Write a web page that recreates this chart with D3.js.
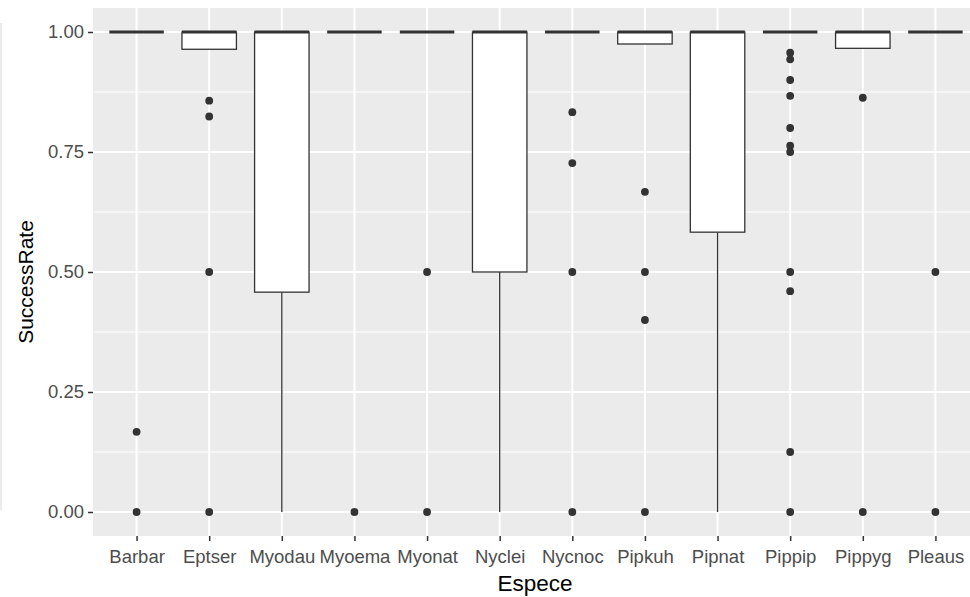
<!DOCTYPE html>
<html>
<head>
<meta charset="utf-8">
<script src="https://cdn.jsdelivr.net/npm/d3@7"></script>
<style>
  html, body { margin: 0; padding: 0; background: #ffffff; }
  svg { display: block; font-family: "Liberation Sans", Arial, sans-serif; }
</style>
</head>
<body>
<svg id="chart" width="970" height="597"></svg>
<script>
// Success rate per species: box summaries and outlying points
const species = ["Barbar", "Eptser", "Myodau", "Myoema", "Myonat", "Nyclei",
                 "Nycnoc", "Pipkuh", "Pipnat", "Pippip", "Pippyg", "Pleaus"];
const lowerHinge = [1, 0.964, 0.458, 1, 1, 0.5, 1, 0.975, 0.583, 1, 0.966, 1];
const medians    = [1, 1, 1, 1, 1, 1, 1, 1, 1, 1, 1, 1];
const upperHinge = [1, 1, 1, 1, 1, 1, 1, 1, 1, 1, 1, 1];
const whiskerLow = [1, 0.964, 0, 1, 1, 0, 1, 0.975, 0, 1, 0.966, 1];
const whiskerHigh = [1, 1, 1, 1, 1, 1, 1, 1, 1, 1, 1, 1];
const outliers = [
  [0.167, 0],
  [0.857, 0.824, 0.5, 0],
  [],
  [0],
  [0.5, 0],
  [],
  [0.833, 0.727, 0.5, 0],
  [0.667, 0.5, 0.4, 0],
  [],
  [0.957, 0.943, 0.9, 0.867, 0.8, 0.763, 0.75, 0.5, 0.46, 0.125, 0],
  [0.863, 0],
  [0.5, 0]
];
const yTicks = [0, 0.25, 0.5, 0.75, 1];
const yMinor = [0.125, 0.375, 0.625, 0.875];

const svg = d3.select("#chart");
const panel = { left: 93, right: 979, top: 8, bottom: 536 };

const x = d3.scalePoint().domain(species).range([panel.left, panel.right]).padding(0.6);
const y = d3.scaleLinear().domain([-0.05, 1.05]).range([panel.bottom, panel.top]);
const boxW = x.step() * 0.75;

// faint strip at the far left edge
svg.append("rect").attr("x", 0).attr("y", 23).attr("width", 2).attr("height", 487)
  .attr("fill", "#ebebeb");

// panel background
svg.append("rect")
  .attr("x", panel.left).attr("y", panel.top)
  .attr("width", panel.right - panel.left).attr("height", panel.bottom - panel.top)
  .attr("fill", "#ebebeb");

const grid = svg.append("g");
grid.selectAll("line.minor").data(yMinor).join("line")
  .attr("x1", panel.left).attr("x2", panel.right)
  .attr("y1", d => y(d)).attr("y2", d => y(d))
  .attr("stroke", "#ffffff").attr("stroke-width", 1);
grid.selectAll("line.majy").data(yTicks).join("line")
  .attr("x1", panel.left).attr("x2", panel.right)
  .attr("y1", d => y(d)).attr("y2", d => y(d))
  .attr("stroke", "#ffffff").attr("stroke-width", 2);
grid.selectAll("line.majx").data(species).join("line")
  .attr("y1", panel.top).attr("y2", panel.bottom)
  .attr("x1", d => x(d)).attr("x2", d => x(d))
  .attr("stroke", "#ffffff").attr("stroke-width", 2);

// boxes
const rows = species.map((s, i) => ({
  s, q1: lowerHinge[i], med: medians[i], q3: upperHinge[i],
  lo: whiskerLow[i], hi: whiskerHigh[i], out: outliers[i]
}));

const boxes = svg.append("g").selectAll("g").data(rows).join("g");
boxes.append("line")
  .attr("x1", d => x(d.s)).attr("x2", d => x(d.s))
  .attr("y1", d => y(d.lo)).attr("y2", d => y(d.q1))
  .attr("stroke", "#333333").attr("stroke-width", 1.3);
boxes.append("line")
  .attr("x1", d => x(d.s)).attr("x2", d => x(d.s))
  .attr("y1", d => y(d.q3)).attr("y2", d => y(d.hi))
  .attr("stroke", "#333333").attr("stroke-width", 1.3);
boxes.append("rect")
  .attr("x", d => x(d.s) - boxW / 2).attr("width", boxW)
  .attr("y", d => y(d.q3)).attr("height", d => y(d.q1) - y(d.q3))
  .attr("fill", "#ffffff").attr("stroke", "#333333").attr("stroke-width", 1.3);
boxes.append("line")
  .attr("x1", d => x(d.s) - boxW / 2).attr("x2", d => x(d.s) + boxW / 2)
  .attr("y1", d => y(d.med)).attr("y2", d => y(d.med))
  .attr("stroke", "#333333").attr("stroke-width", 3);
boxes.selectAll("circle").data(d => d.out.map(v => ({ s: d.s, v }))).join("circle")
  .attr("cx", d => x(d.s)).attr("cy", d => y(d.v)).attr("r", 3.9)
  .attr("fill", "#333333");

// axes
const yAxis = svg.append("g").attr("transform", `translate(${panel.left},0)`)
  .call(d3.axisLeft(y).tickValues(yTicks).tickFormat(d3.format(".2f")).tickSize(5).tickPadding(4));
const xAxis = svg.append("g").attr("transform", `translate(0,${panel.bottom})`)
  .call(d3.axisBottom(x).tickSize(5).tickPadding(4));
[yAxis, xAxis].forEach(a => {
  a.select(".domain").remove();
  a.selectAll(".tick line").attr("stroke", "#333333").attr("stroke-width", 1.5);
  a.selectAll(".tick text").attr("fill", "#4d4d4d")
    .style("font-size", "18.5px").style("font-family", "'Liberation Sans', Arial, sans-serif");
});
xAxis.selectAll(".tick text").attr("dy", "0.95em");

// axis titles
svg.append("text").attr("x", (panel.left + panel.right) / 2 - 1).attr("y", 591)
  .attr("text-anchor", "middle").attr("fill", "#000000")
  .style("font-size", "22.5px").text("Espece");
svg.append("text").attr("transform", "translate(33,282) rotate(-90)")
  .attr("text-anchor", "middle").attr("fill", "#000000")
  .style("font-size", "21px").text("SuccessRate");
</script>
</body>
</html>
